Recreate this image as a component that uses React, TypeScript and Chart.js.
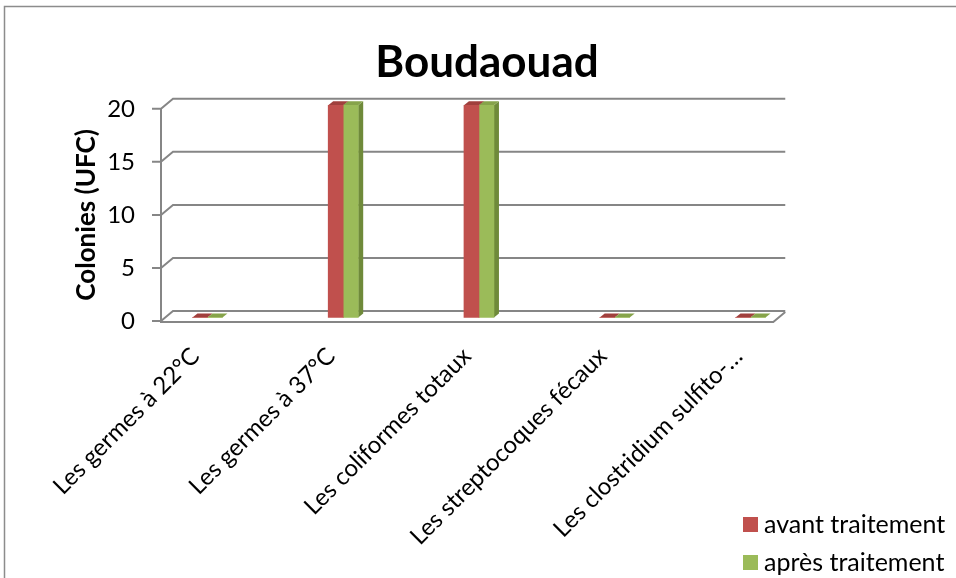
import React, { useEffect, useRef } from 'react';
import { Chart, registerables } from 'chart.js';

Chart.register(...registerables);

// ---------- data ----------
const categories = [
  'Les germes à 22°C',
  'Les germes à 37°C',
  'Les coliformes totaux',
  'Les streptocoques fécaux',
  'Les clostridium sulfito-…',
];
const seriesNames = ['avant traitement', 'après traitement'];
const avantTraitement = [0, 20, 20, 0, 0];
const apresTraitement = [0, 20, 20, 0, 0];
const yMin = 0;
const yMax = 20;
const yStep = 5;
const chartTitle = 'Boudaouad';
const yTitle = 'Colonies (UFC)';

// ---------- style ----------
const FONT = 'Lato, "Open Sans", sans-serif';
const GRID = '#868686';
const FRONT_COLORS = ['#C0504D', '#9BBB59'];
const TOP_COLORS = ['#A0403D', '#86A34A'];
const SIDE_COLORS = ['#8E3A37', '#6F8A3A'];

// x positions in category units (for the 3D frame)
const X_MIN = -0.32;
const X_MAX = 5.536;
const FLOOR_END = 4.19;
const BAR_SHIFT = [3, -3.5];
const BAR_DEPTH = [5, -4];
const WALL = [12, -10];

const frame3d = {
  id: 'frame3d',
  beforeDraw(chart: any) {
    const { ctx } = chart;
    ctx.save();
    ctx.strokeStyle = '#8c8c8c';
    ctx.lineWidth = 1.5;
    ctx.strokeRect(4.5, 6.5, 1100, 1100);
    ctx.restore();
  },
  beforeDatasetsDraw(chart: any) {
    const { ctx } = chart;
    const xs = chart.scales.x;
    const ys = chart.scales.y;
    const x0 = xs.getPixelForValue(X_MIN);
    const x1 = xs.getPixelForValue(FLOOR_END);
    const y0 = ys.getPixelForValue(yMin);
    const yTop = ys.getPixelForValue(yMax);
    ctx.save();
    ctx.strokeStyle = GRID;
    ctx.lineWidth = 2;
    ctx.beginPath();
    ys.ticks.forEach((t: any) => {
      const py = ys.getPixelForValue(t.value);
      ctx.moveTo(x0 - 9, py);
      ctx.lineTo(x0, py);
      ctx.lineTo(x0 + WALL[0], py + WALL[1]);
      ctx.lineTo(x1 + WALL[0], py + WALL[1]);
    });
    ctx.moveTo(x0, yTop);
    ctx.lineTo(x0, y0 + 1);
    ctx.lineTo(x1, y0 + 1);
    ctx.lineTo(x1 + WALL[0], y0 + 1 + WALL[1]);
    ctx.stroke();
    ctx.restore();

    // bars: shift into the depth, draw side and top faces; fronts follow from Chart.js
    ctx.save();
    ctx.translate(BAR_SHIFT[0], BAR_SHIFT[1]);
    chart.data.datasets.forEach((_ds: any, i: number) => {
      const meta = chart.getDatasetMeta(i);
      meta.data.forEach((bar: any) => {
        const { x, y, base, width } = bar.getProps(['x', 'y', 'base', 'width'], true);
        const l = x - width / 2;
        const r = x + width / 2;
        const top = Math.min(y, base);
        const bot = Math.max(y, base);
        ctx.fillStyle = SIDE_COLORS[i];
        ctx.beginPath();
        ctx.moveTo(r, top);
        ctx.lineTo(r + BAR_DEPTH[0], top + BAR_DEPTH[1]);
        ctx.lineTo(r + BAR_DEPTH[0], bot + BAR_DEPTH[1]);
        ctx.lineTo(r, bot);
        ctx.closePath();
        ctx.fill();
        ctx.fillStyle = TOP_COLORS[i];
        ctx.beginPath();
        ctx.moveTo(l, top);
        ctx.lineTo(l + BAR_DEPTH[0], top + BAR_DEPTH[1]);
        ctx.lineTo(r + BAR_DEPTH[0], top + BAR_DEPTH[1]);
        ctx.lineTo(r, top);
        ctx.closePath();
        ctx.fill();
      });
    });
  },
  afterDatasetsDraw(chart: any) {
    chart.ctx.restore();
  },
  afterDraw(chart: any) {
    const { ctx } = chart;
    ctx.save();
    ctx.font = `25px ${FONT}`;
    ctx.textBaseline = 'middle';
    ctx.textAlign = 'left';
    chart.data.datasets.forEach((ds: any, i: number) => {
      const by = 517 + i * 38;
      ctx.fillStyle = ds.backgroundColor;
      ctx.fillRect(743, by, 15, 15);
      ctx.fillStyle = '#000';
      ctx.fillText(ds.label, 764, by + 7.5);
    });
    ctx.restore();
  },
};

const noPadding = () => ({ left: 0, top: 0, right: 0, bottom: 0 });

export default function App() {
  const ref = useRef<HTMLCanvasElement | null>(null);
  useEffect(() => {
    if (!ref.current) return;
    const series = [avantTraitement, apresTraitement];
    const chart = new Chart(ref.current, {
      type: 'bar',
      data: {
        datasets: series.map((vals, i) => ({
          label: seriesNames[i],
          data: vals.map((v, k) => ({ x: k, y: v })),
          backgroundColor: FRONT_COLORS[i],
          barThickness: 15,
          clip: false as any,
        })),
      },
      options: {
        responsive: false,
        devicePixelRatio: 1,
        animation: false,
        events: [],
        layout: { padding: { left: 18, right: 0, top: 0, bottom: 0 } },
        plugins: {
          legend: { display: false },
          tooltip: { enabled: false },
          title: {
            display: true,
            text: chartTitle,
            color: '#000',
            font: { family: FONT, size: 44, weight: 'bold', lineHeight: 1.2 },
            padding: { top: 36, bottom: 20 },
          },
        },
        scales: {
          x: {
            type: 'linear',
            offset: false,
            min: X_MIN,
            max: X_MAX,
            grid: { display: false, drawTicks: false, offset: false },
            border: { display: false },
            ticks: {
              stepSize: 1,
              autoSkip: false,
              includeBounds: false,
              minRotation: 45,
              maxRotation: 45,
              padding: 21,
              labelOffset: -9,
              color: '#000',
              font: { family: FONT, size: 24 },
              callback: (v: any) => categories[v] ?? '',
            },
            afterBuildTicks: (s: any) => {
              s.ticks = s.ticks.filter(
                (t: any) => Number.isInteger(t.value) && t.value >= 0 && t.value < categories.length
              );
            },
            afterFit: (s: any) => {
              s.height = 257;
              s.paddingLeft = 0;
              s.paddingRight = 0;
              s.getPadding = noPadding;
            },
          },
          y: {
            min: yMin,
            max: yMax,
            grid: { display: false, drawTicks: false },
            border: { display: false },
            ticks: {
              stepSize: yStep,
              padding: 26,
              color: '#000',
              font: { family: FONT, size: 24 },
            },
            title: {
              display: true,
              text: yTitle,
              color: '#000',
              font: { family: FONT, size: 26, weight: 'bold', lineHeight: 1.2 },
              padding: { top: 53, bottom: 0 },
            },
            afterFit: (s: any) => {
              s.width = 143;
              s.paddingTop = 0;
              s.paddingBottom = 0;
              s.getPadding = noPadding;
            },
          },
        },
      },
      plugins: [frame3d],
    });
    return () => chart.destroy();
  }, []);
  return (
    <canvas
      ref={ref}
      width={956}
      height={578}
      style={{ position: 'absolute', left: 0, top: 0, width: 956, height: 578 }}
    />
  );
}
